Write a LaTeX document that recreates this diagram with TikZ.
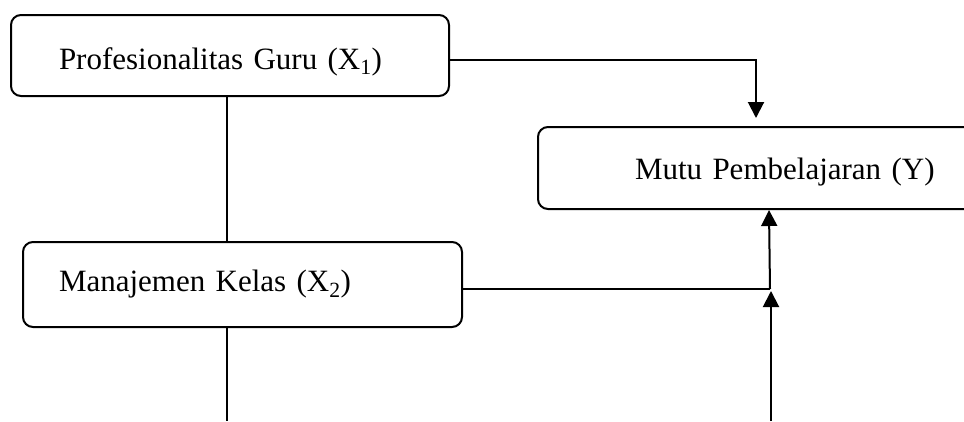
\documentclass[tikz,border=0pt]{standalone}
\usepackage{fontspec}
\setmainfont{Liberation Serif}
\usetikzlibrary{arrows.meta}
\begin{document}
\begin{tikzpicture}[x=1pt,y=-1pt,
  box/.style={draw, line width=2pt, rounded corners=10pt, align=left,
    font=\fontsize{31}{36}\selectfont, anchor=north west, inner ysep=0pt},
  link/.style={line width=2pt},
  arr/.style={line width=2pt, -{Triangle[length=16pt,width=16pt]}}]
% the page is exactly this frame; anything beyond it is cut off
\path[use as bounding box] (0,0) rectangle (964,421);
\clip (0,0) rectangle (964,421);
\fill[white] (0,0) rectangle (964,421);

% variable boxes
\node[box, minimum height=81pt, inner xsep=48pt, text width=342pt] (p) at (10,14)
  {\raisebox{-6pt}[\height][\depth]{Profesionalitas Guru (X\textsubscript{1})}};
\node[box, minimum height=85pt, inner xsep=36pt, text width=367pt] (m) at (22,241)
  {Manajemen Kelas (X\textsubscript{2})};
\node[box, minimum height=82pt, inner xsep=97pt, text width=400pt] (y) at (537,126)
  {\raisebox{-4pt}[\height][\depth]{Mutu Pembelajaran (Y)}};

% guide positions for the connectors
\coordinate (cx) at (227,0);
\coordinate (ca) at (756,0);
\coordinate (cj) at (770,289);
\coordinate (cb) at (771,421);
\coordinate (cbt) at (771,291);

% connectors
\draw[link] (cx |- p.south) -- (cx |- m.north);
\draw[link] (cx |- m.south) -- (cx |- cb);
\draw[arr, shorten >=8pt] ([yshift=-4pt]p.east) -| (ca |- y.north);
\draw[link, line width=1.5pt] (m.east |- cj) -- (cj);
\draw[arr] (cj) -- ([xshift=-1pt]cj |- y.south);
\draw[arr] (cb) -- (cbt);
\end{tikzpicture}
\end{document}
